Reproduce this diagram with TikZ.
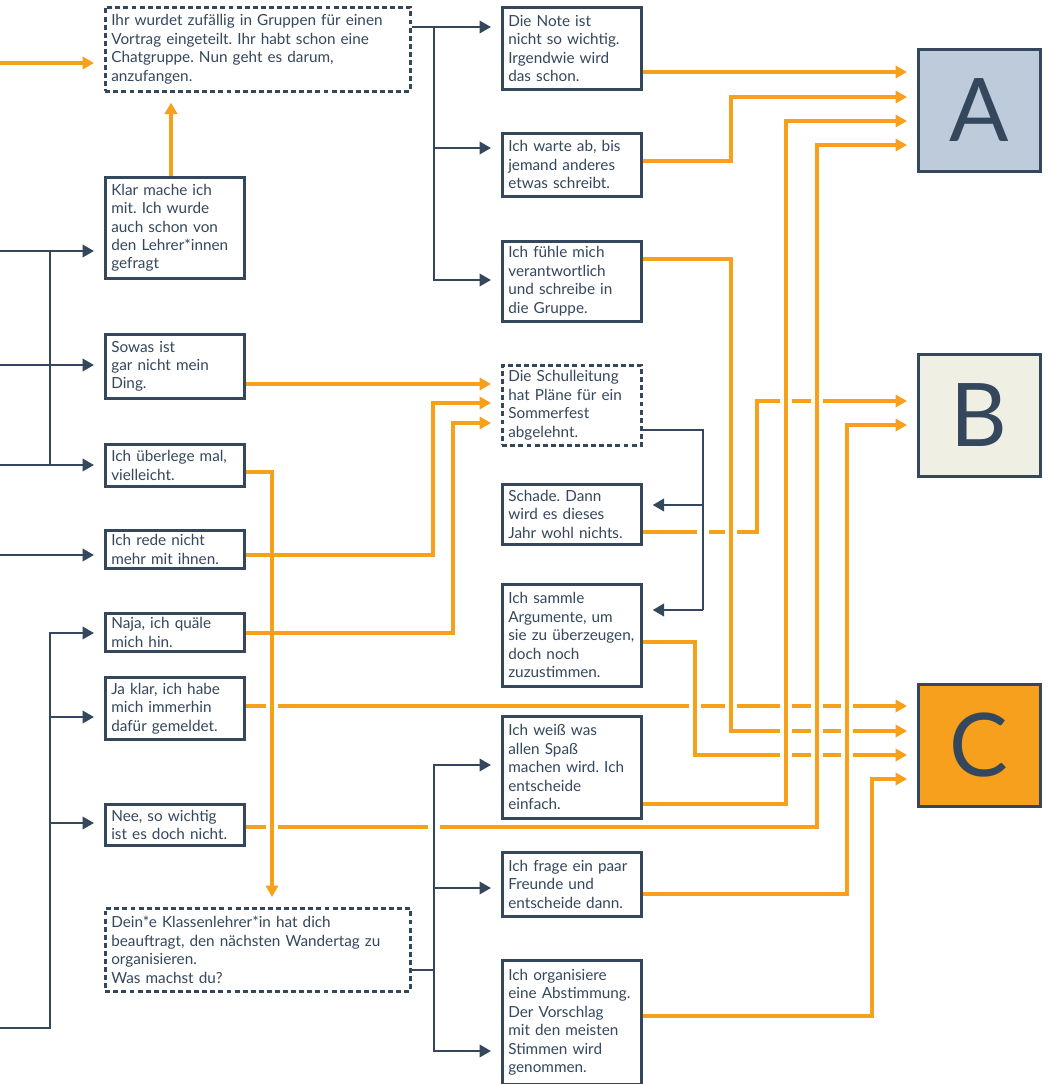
\documentclass[tikz,border=0pt]{standalone}
\usepackage{fontspec}
\setmainfont{Lato}
\usepackage{tikz}
\usetikzlibrary{arrows.meta}
\definecolor{ink}{RGB}{52,71,92}
\definecolor{accent}{RGB}{247,160,28}
\definecolor{fillA}{RGB}{189,203,219}
\definecolor{fillB}{RGB}{240,239,228}
\definecolor{fillC}{RGB}{246,160,30}
\frenchspacing
\hyphenpenalty=10000

\begin{document}
\begin{tikzpicture}[
  x=0.02cm, y=-0.02cm,
  every node/.style={font=\fontsize{8.7}{10.5}\selectfont, text=ink},
  answer/.style={draw=ink, line width=1.5pt, fill=white, anchor=north west, align=left, text width=2.54cm, inner xsep=0.12cm, inner ysep=1pt},
  situation/.style={answer, dash pattern=on 2.8pt off 1.8pt, text width=5.86cm},
  result/.style={draw=ink, line width=1.5pt, anchor=north west, minimum width=2.44cm, minimum height=2.44cm, inner sep=0pt, font=\fontsize{50}{50}\selectfont},
  flow/.style={draw=ink, line width=1.5pt, shorten >=0.2cm, -{Triangle[length=6.5pt,width=7pt]}},
  link/.style={draw=ink, line width=1.5pt},
  pick/.style={draw=accent, line width=1.8pt, shorten >=0.2cm, -{Triangle[length=6.5pt,width=7pt]}}
]
\useasboundingbox (0,0) rectangle (1049,1084);

% Situationen (gestrichelt)
\node[situation, minimum height=1.68cm] (intro) at (104,6) {Ihr wurdet zufällig in Gruppen für einen\\Vortrag eingeteilt. Ihr habt schon eine\\Chatgruppe. Nun geht es darum,\\anzufangen.};
\node[situation, minimum height=1.66cm] (wandertag) at (104,907) {Dein*e Klassenlehrer*in hat dich\\beauftragt, den nächsten Wandertag zu\\organisieren.\\Was machst du?};
\node[answer, dash pattern=on 2.8pt off 1.8pt, minimum height=1.6cm] (sommerfest) at (501,364) {Die Schulleitung\\hat Pläne für ein\\Sommerfest\\abgelehnt.};

% Antworten links
\node[answer, minimum height=2.02cm] (klar) at (104,176) {Klar mache ich\\mit. Ich wurde\\auch schon von\\den Lehrer*innen\\gefragt};
\node[answer, minimum height=1.28cm] (sowas) at (104,333) {Sowas ist\\gar nicht mein\\Ding.};
\node[answer, minimum height=0.84cm] (ueberlege) at (104,443) {Ich überlege mal,\\vielleicht.};
\node[answer, minimum height=0.76cm] (rede) at (104,529) {Ich rede nicht\\mehr mit ihnen.};
\node[answer, minimum height=0.76cm] (naja) at (104,612) {Naja, ich quäle\\mich hin.};
\node[answer, minimum height=1.24cm] (jaklar) at (104,676) {Ja klar, ich habe\\mich immerhin\\dafür gemeldet.};
\node[answer, minimum height=0.82cm] (nee) at (104,803) {Nee, so wichtig\\ist es doch nicht.};

% Antworten rechts
\node[answer, minimum height=1.64cm] (note) at (501,6) {Die Note ist\\nicht so wichtig.\\Irgendwie wird\\das schon.};
\node[answer, minimum height=1.26cm] (warte) at (501,132) {Ich warte ab, bis\\jemand anderes\\etwas schreibt.};
\node[answer, minimum height=1.6cm] (fuehle) at (501,240) {Ich fühle mich\\verantwortlich\\und schreibe in\\die Gruppe.};
\node[answer, minimum height=1.2cm] (schade) at (501,483) {Schade. Dann\\wird es dieses\\Jahr wohl nichts.};
\node[answer, minimum height=2.04cm] (sammle) at (501,583) {Ich sammle\\Argumente, um\\sie zu überzeugen,\\doch noch\\zuzustimmen.};
\node[answer, minimum height=2.04cm] (weiss) at (501,715) {Ich weiß was\\allen Spaß\\machen wird. Ich\\entscheide\\einfach.};
\node[answer, minimum height=1.28cm] (frage) at (501,851) {Ich frage ein paar\\Freunde und\\entscheide dann.};
\node[answer, minimum height=2.48cm] (abstimmung) at (501,959) {Ich organisiere\\eine Abstimmung.\\Der Vorschlag\\mit den meisten\\Stimmen wird\\genommen.};

% Ergebnisse
\node[result, fill=fillA] (A) at (917,48) {A};
\node[result, fill=fillB] (B) at (917,353) {B};
\node[result, fill=fillC] (C) at (917,683) {C};

% Eingänge
\coordinate (in0) at (0,63);
\coordinate (in1) at (0,251);
\coordinate (in2) at (0,365);
\coordinate (in3) at (0,465);
\coordinate (in4) at (0,555);
\coordinate (in5) at (0,1028);
\coordinate (a1) at (A.west |- 0,72);
\coordinate (a2) at (A.west |- 0,97);
\coordinate (a3) at (A.west |- 0,121);
\coordinate (a4) at (A.west |- 0,145);
\coordinate (b1) at (B.west |- 0,401);
\coordinate (b2) at (B.west |- 0,425);
\coordinate (c1) at (C.west |- 0,706);
\coordinate (c2) at (C.west |- 0,731);
\coordinate (c3) at (C.west |- 0,755);
\coordinate (c4) at (C.west |- 0,779);

% Verzweigungen (dunkel)
\draw[flow] (in1) -- (klar.west |- in1);
\draw[flow] (in2) -- (sowas.west |- in2);
\draw[flow] (in3) -- (ueberlege.west |- in3);
\draw[link] (50,251) -- (50,465);
\draw[flow] (in4) -- (rede.west |- in4);
\draw[flow] (in5) -| (50,633) -- (naja.west |- 0,633);
\draw[flow] (50,717) -- (jaklar.west |- 0,717);
\draw[flow] (50,823) -- (nee.west |- 0,823);

\draw[flow] (intro.east |- 0,27) -- (note.west |- 0,27);
\draw[flow] (434,27) |- (fuehle.west |- 0,280);
\draw[flow] (434,148) -- (warte.west |- 0,148);

\draw[link] (sommerfest.east |- 0,430) -| (703,610);
\draw[flow] (703,505) -- (schade.east |- 0,505);
\draw[flow] (703,610) -- (sammle.east |- 0,610);

\draw[link] (wandertag.east |- 0,970) -- (434,970);
\draw[flow] (434,970) |- (weiss.west |- 0,765);
\draw[flow] (434,888) -- (frage.west |- 0,888);
\draw[flow] (434,970) |- (abstimmung.west |- 0,1051);

% Entscheidungen (orange)
\draw[pick] (in0) -- (intro.west |- in0);
\draw[pick] (klar.north -| 171,0) -- (intro.south -| 171,0);
\draw[pick] (sowas.east |- 0,384) -- (sommerfest.west |- 0,384);
\draw[pick] (ueberlege.east |- 0,472) -| (wandertag.north -| 272,0);
\draw[pick] (rede.east |- 0,555) -- (433,555) |- (sommerfest.west |- 0,403);
\draw[pick] (naja.east |- 0,633) -- (453,633) |- (sommerfest.west |- 0,423);
\draw[pick] (jaklar.east |- 0,706) -- (c1);
\draw[pick] (nee.east |- 0,827) -- (817,827) |- (a4);
\draw[pick] (note.east |- a1) -- (a1);
\draw[pick] (warte.east |- 0,161) -- (731,161) |- (a2);
\draw[pick] (fuehle.east |- 0,259) -- (731,259) |- (c2);
\draw[pick] (schade.east |- 0,532) -- (757,532) |- (b1);
\draw[pick] (sammle.east |- 0,642) -- (695,642) |- (c3);
\draw[pick] (weiss.east |- 0,804) -- (786,804) |- (a3);
\draw[pick] (frage.east |- 0,894) -- (847,894) |- (b2);
\draw[pick] (abstimmung.east |- 0,1016) -- (872,1016) |- (c4);

% Lücken an Kreuzungen
\foreach \gx/\gy in {272/706, 695/706, 731/706, 786/706, 817/706, 847/706, 272/827,
                     786/401, 817/401, 731/532, 786/731, 817/731, 847/731,
                     786/755, 817/755, 847/755} {
  \fill[white] (\gx-6,\gy-4) rectangle (\gx+6,\gy+4);
  \draw[accent, line width=1.8pt] (\gx,\gy-5) -- (\gx,\gy+5);
}
\foreach \gx/\gy in {434/827, 703/532} {
  \fill[white] (\gx-6,\gy-4) rectangle (\gx+6,\gy+4);
  \draw[ink, line width=1.5pt] (\gx,\gy-5) -- (\gx,\gy+5);
}
\end{tikzpicture}
\end{document}
